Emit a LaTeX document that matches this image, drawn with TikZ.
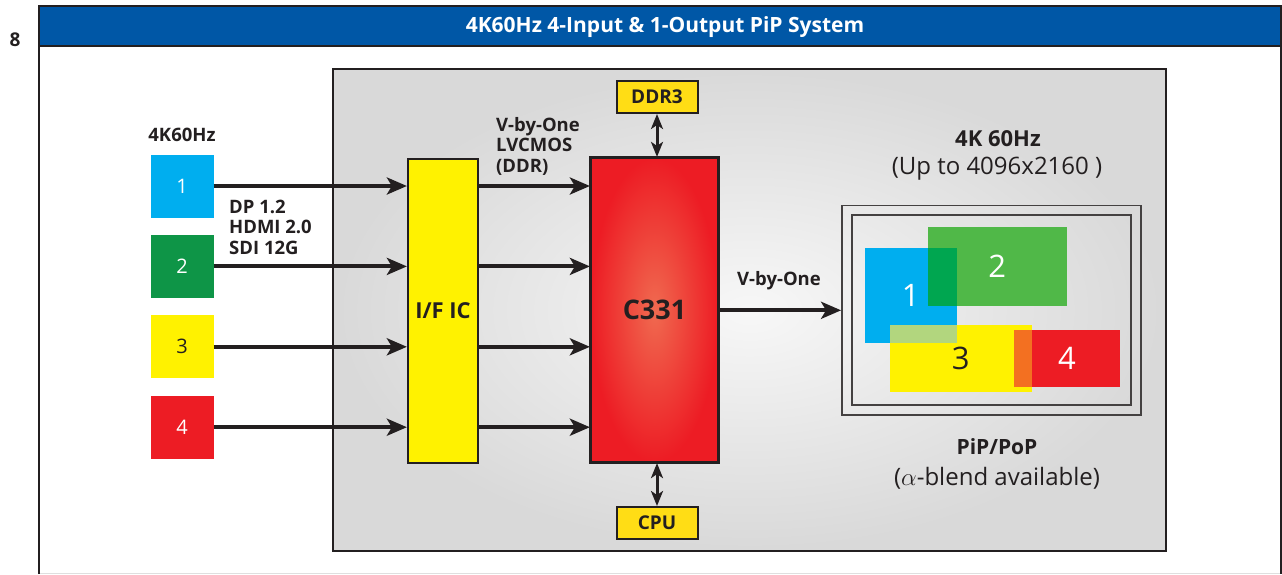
\documentclass[tikz,border=0pt]{standalone}
\usepackage{fontspec}
\setmainfont{Open Sans}
\usepackage{tikz}
\usetikzlibrary{positioning}
\usetikzlibrary{arrows.meta}
\usetikzlibrary{shadings}
\definecolor{darkline}{HTML}{231F20}
\definecolor{titleblue}{HTML}{0057A6}
\definecolor{incyan}{HTML}{00AEEF}
\definecolor{ingreen}{HTML}{0E9547}
\definecolor{inyellow}{HTML}{FFF200}
\definecolor{inred}{HTML}{ED1C24}
\definecolor{memyellow}{HTML}{FFDD15}
\definecolor{wingreen}{HTML}{50B848}
\definecolor{mixgreen}{HTML}{00A650}
\definecolor{mixlime}{HTML}{B2D67E}
\definecolor{mixorange}{HTML}{F37021}
\definecolor{chipglow}{HTML}{F06A50}
\tikzset{
in_box/.style={rectangle, minimum width=63pt, minimum height=63pt, text=white, font=\fontsize{20}{20}\selectfont},
chip/.style={rectangle, draw=darkline, line width=2.2pt, text=darkline, font=\bfseries\fontsize{24}{24}\selectfont},
mem_box/.style={rectangle, draw=darkline, line width=2pt, fill=memyellow, minimum width=81pt, minimum height=32pt, text=darkline, font=\bfseries\fontsize{19}{19}\selectfont},
bus_label/.style={text=darkline, font=\bfseries\fontsize{18.5}{20.5}\selectfont, align=left, inner sep=0pt},
bus_arrow/.style={-{Stealth[length=20pt,width=17pt,inset=5pt]}, line width=4pt, draw=darkline},
mem_arrow/.style={{Stealth[length=15pt,width=12pt,inset=4pt]}-{Stealth[length=15pt,width=12pt,inset=4pt]}, line width=3pt, draw=darkline},
window/.style={rectangle, inner sep=0pt, text=white, font=\fontsize{31}{31}\selectfont},
caption/.style={text=darkline, font=\fontsize{24}{24}\selectfont, inner sep=0pt}
}
\begin{document}
\begin{tikzpicture}[x=1pt, y=-1pt]
    \useasboundingbox (0,0) rectangle (1282,574);
    % frame and title bar
    \draw[gray!25, line width=1pt] (39,573) -- (1281,573);
    \draw[darkline, line width=2pt] (39,574) -- (39,6) -- (1281,6) -- (1281,574);
    \draw[darkline, line width=2pt, fill=titleblue] (39,6) rectangle (1281,46);
    \node[text=white, font=\bfseries\fontsize{21}{21}\selectfont] (title) at (665,27) {4K60Hz 4-Input \& 1-Output PiP System};
    \node[text=darkline, font=\bfseries\fontsize{19}{19}\selectfont] (page_no) at (15,40) {8};

    % grey board
    \node[rectangle, draw=darkline, line width=2.5pt, shading=radial, inner color=gray!6, outer color=gray!30, minimum width=833pt, minimum height=482pt] (board) at (749.5,310) {};

    % inputs
    \node[in_box, fill=incyan] (in_1) at (182,186) {1};
    \node[in_box, fill=ingreen] (in_2) [below=17pt of in_1] {2};
    \node[in_box, fill=inyellow, text=darkline] (in_3) [below=17pt of in_2] {3};
    \node[in_box, fill=inred] (in_4) [below=17pt of in_3] {4};
    \node[bus_label] (in_rate) at (182,135) {4K60Hz};
    \node[bus_label, anchor=west] (in_types) at (229,227) {DP 1.2\\HDMI 2.0\\SDI 12G};

    % chips
    \node[chip, fill=inyellow, font=\bfseries\fontsize{22}{22}\selectfont, minimum width=70pt, minimum height=304pt] (ific) at (443,311) {I/F IC};
    \node[chip, shading=radial, inner color=chipglow, outer color=inred, font=\bfseries\fontsize{27}{27}\selectfont, minimum width=127pt, minimum height=304pt] (c331) at (654.5,310) {C331};
    \draw[chip, fill=none] (c331.south west) rectangle (c331.north east);
    \node[mem_box] (ddr3) at (657,97) {DDR3};
    \node[mem_box] (cpu) at (657,523) {CPU};
    \node[bus_label, anchor=west] (mid_bus) at (496,146) {V-by-One\\LVCMOS\\(DDR)};

    \draw[bus_arrow] (in_1.east) -- (in_1.east -| ific.west);
    \draw[bus_arrow] (in_2.east) -- (in_2.east -| ific.west);
    \draw[bus_arrow] (in_3.east) -- (in_3.east -| ific.west);
    \draw[bus_arrow] (in_4.east) -- (in_4.east -| ific.west);
    \draw[bus_arrow] (in_1.east -| ific.east) -- (in_1.east -| c331.west);
    \draw[bus_arrow] (in_2.east -| ific.east) -- (in_2.east -| c331.west);
    \draw[bus_arrow] (in_3.east -| ific.east) -- (in_3.east -| c331.west);
    \draw[bus_arrow] (in_4.east -| ific.east) -- (in_4.east -| c331.west);
    \draw[mem_arrow] (ddr3.south) -- (ddr3.south |- c331.north);
    \draw[mem_arrow] (cpu.north) -- (cpu.north |- c331.south);

    % output screen
    \node[rectangle, draw=darkline!85, line width=1.8pt, minimum width=299pt, minimum height=209.5pt] (screen) at (991.5,310.3) {};
    \node[rectangle, draw=darkline!85, line width=2pt, minimum width=279pt, minimum height=190pt] (screen_in) at (991.5,310.2) {};
    \draw[bus_arrow] (c331.east |- screen.west) -- (screen.west);
    \node[bus_label] (out_bus) at (779,281) {V-by-One};

    \node[window, fill=incyan, minimum width=91.7pt, minimum height=94.7pt] (win_1) at (910.8,295.3) {1};
    \node[window, fill=wingreen, minimum width=139pt, minimum height=78.7pt] (win_2) at (997.2,266.3) {2};
    \fill[mixgreen] (927.7,248) rectangle (956.5,305.7);
    \node[window, fill=inyellow, text=darkline, minimum width=141.7pt, minimum height=66.7pt] (win_3) at (960.8,358.3) {3};
    \fill[mixlime] (890,325) rectangle (956.5,342.7);
    \node[window, fill=inred, minimum width=106pt, minimum height=56.7pt] (win_4) at (1067,358.3) {4};
    \fill[mixorange] (1014,330) rectangle (1031.7,386.7);

    \node[caption, font=\bfseries\fontsize{22}{22}\selectfont] (out_rate) at (998,139) {4K 60Hz};
    \node[caption] (out_res) at (997,169) {(Up to 4096x2160 )};
    \node[caption, font=\bfseries\fontsize{21}{21}\selectfont] (pip) at (997,447) {PiP/PoP};
    \node[caption] (blend) at (997,478) {($\alpha$-blend available)};
\end{tikzpicture}
\end{document}
